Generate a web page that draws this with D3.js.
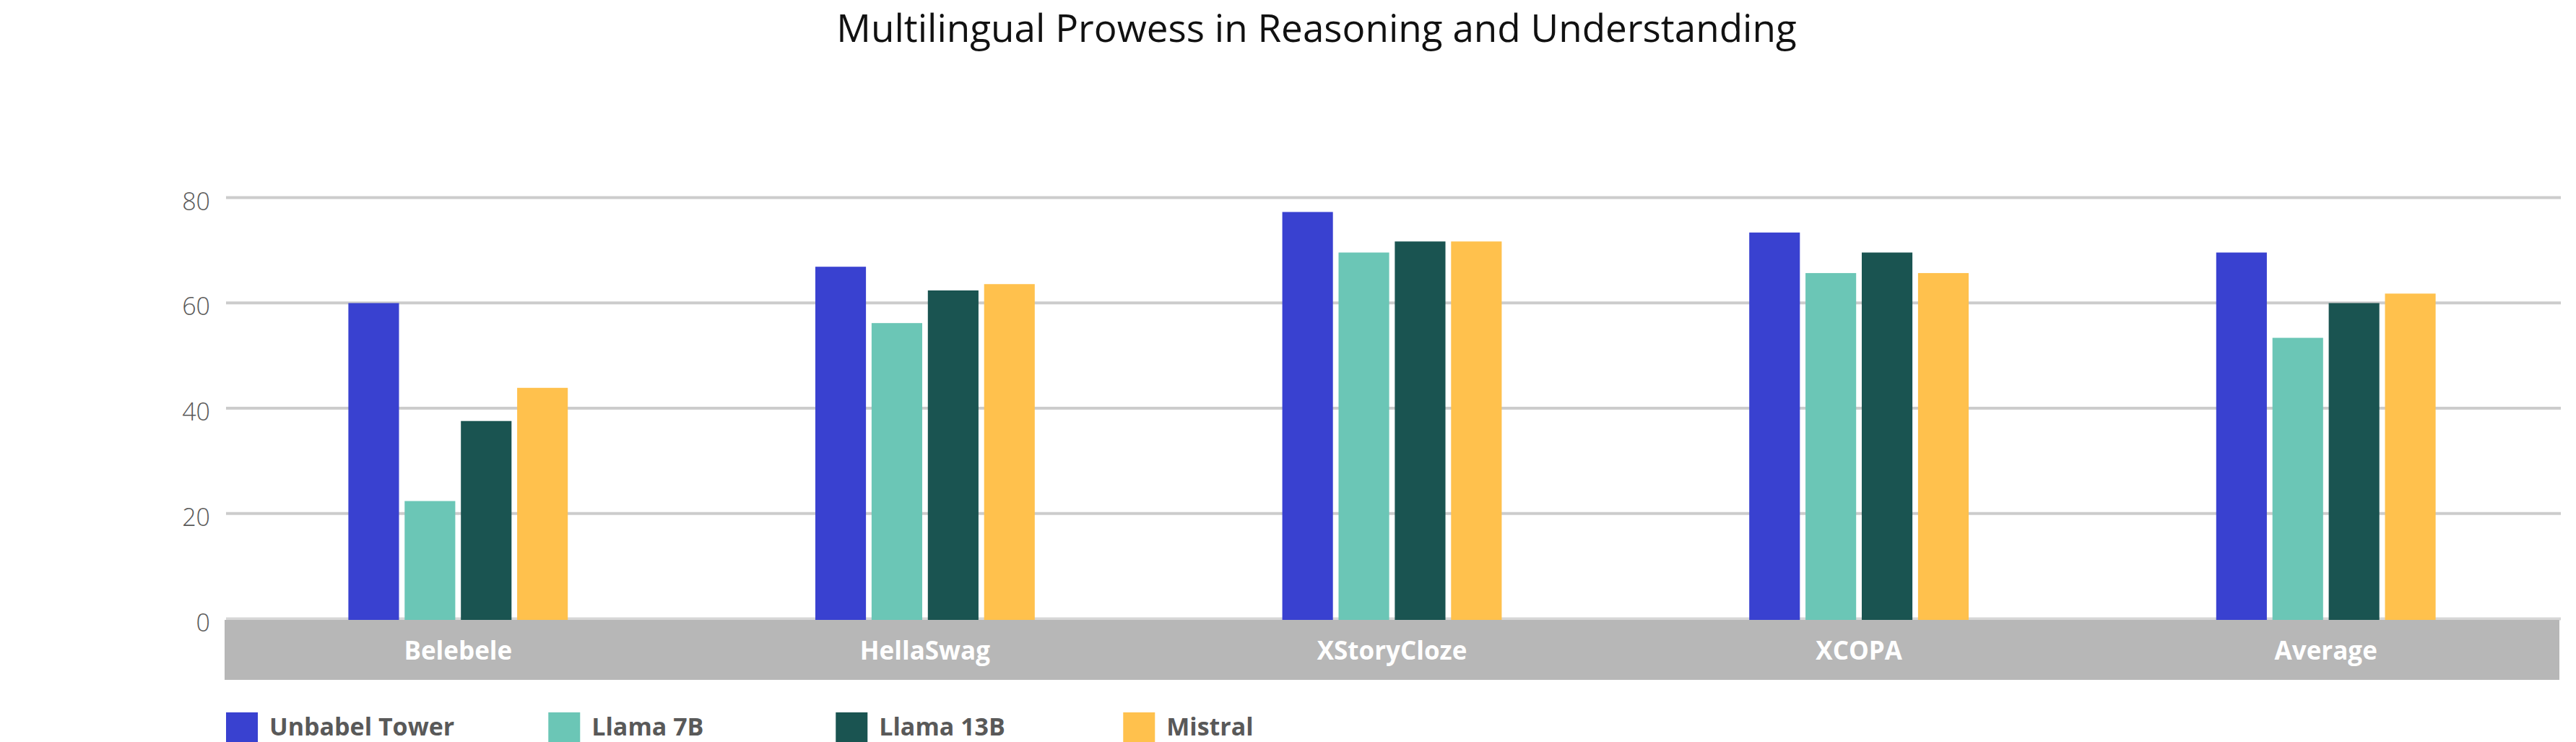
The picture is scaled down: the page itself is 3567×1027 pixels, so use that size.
<!DOCTYPE html>
<html>
<head>
<meta charset="utf-8">
<script src="https://cdn.jsdelivr.net/npm/d3@7"></script>
<style>
  body { margin: 0; background: #fff; }
  svg { display: block; }
</style>
</head>
<body>
<div id="chart"></div>
<script>

// benchmark categories along the x axis
let categories = ["Belebele", "HellaSwag", "XStoryCloze", "XCOPA", "Average"];

// models (series)
let series = ["Unbabel Tower", "Llama 7B", "Llama 13B", "Mistral"];

// scores per model, same order as categories
let towerValues   = [59.9, 66.8, 77.2, 73.3, 69.5];
let llama7bValues = [22.3, 56.1, 69.5, 65.6, 53.3];
let llama13bValues = [37.5, 62.3, 71.6, 69.5, 59.9];
let mistralValues = [43.8, 63.5, 71.6, 65.6, 61.7];

let yTicks = [0, 20, 40, 60, 80];

let chartTitle = "Multilingual Prowess in Reasoning and Understanding";

function drawChart(elt, w, h) {

    let colors = ["#3941d0", "#6bc6b6", "#1a5451", "#ffc14d"];

    let margin = {top: 273, right: 23, bottom: 169, left: 311},
        width = w - margin.left - margin.right,
        height = h - margin.top - margin.bottom;

    let valuesBySeries = [towerValues, llama7bValues, llama13bValues, mistralValues];

    let svg = d3.select(elt).append("svg")
        .attr("width", w)
        .attr("height", h);

    // title
    svg.append("text")
        .attr("x", 1823)
        .attr("y", 58)
        .attr("text-anchor", "middle")
        .style("font-family", "'Open Sans', sans-serif")
        .style("font-size", "53px")
        .style("fill", "#111")
        .text(chartTitle);

    let g = svg.append("g")
        .attr("transform", "translate(" + margin.left + "," + margin.top + ")");

    let x0 = d3.scaleBand()
        .domain(categories)
        .range([0, width]);

    let x1 = d3.scaleBand()
        .domain(series)
        .range([0, x0.bandwidth()])
        .paddingInner(0.1)
        .paddingOuter(2.2);

    let y = d3.scaleLinear()
        .domain([0, 80])
        .range([height - 2, 0]);

    // gridlines + y labels
    let yAxis = g.append("g")
        .attr("transform", "translate(2,0)")
        .call(d3.axisLeft(y)
            .tickValues(yTicks)
            .tickSize(-width)
            .tickPadding(22));

    yAxis.select(".domain").remove();
    yAxis.selectAll(".tick line")
        .attr("stroke", function(d) { return d === 0 ? "#d6d6d6" : "#cccccc"; })
        .attr("stroke-width", 4);
    yAxis.selectAll(".tick text")
        .attr("dy", "0.5em")
        .style("font-family", "'Open Sans', sans-serif")
        .style("font-weight", 300)
        .style("font-size", "34px")
        .style("fill", "#595959");

    // gray category band under the bars
    g.append("rect")
        .attr("x", 0)
        .attr("y", y(0) + 2)
        .attr("width", width)
        .attr("height", 83)
        .attr("fill", "#b7b7b7");

    // bars
    let groups = g.selectAll(".group")
        .data(categories)
        .enter().append("g")
        .attr("class", "group")
        .attr("transform", function(d) { return "translate(" + x0(d) + ",0)"; });

    groups.selectAll("rect")
        .data(function(d, i) {
            return series.map(function(s, j) {
                return {key: s, value: valuesBySeries[j][i], fill: colors[j]};
            });
        })
        .enter().append("rect")
        .attr("x", function(d) { return x1(d.key); })
        .attr("y", function(d) { return y(d.value); })
        .attr("width", x1.bandwidth())
        .attr("height", function(d) { return y(0) + 2 - y(d.value); })
        .attr("fill", function(d) { return d.fill; });

    // category labels inside the band
    let xAxis = g.append("g")
        .attr("transform", "translate(0," + (y(0) + 57) + ")")
        .call(d3.axisBottom(x0).tickSize(0).tickPadding(0));

    xAxis.select(".domain").remove();
    xAxis.selectAll(".tick text")
        .attr("dy", "0")
        .style("font-family", "'Open Sans', sans-serif")
        .style("font-weight", 700)
        .style("font-size", "35px")
        .style("fill", "#ffffff");

    // legend
    let legend = svg.append("g")
        .attr("transform", "translate(" + (margin.left + 2) + ",986)");

    let offset = 0;
    series.forEach(function(s, i) {
        let item = legend.append("g")
            .attr("transform", "translate(" + offset + ",0)");
        item.append("rect")
            .attr("width", 44)
            .attr("height", 41)
            .attr("fill", colors[i]);
        let label = item.append("text")
            .attr("x", 60)
            .attr("y", 32)
            .style("font-family", "'Open Sans', sans-serif")
            .style("font-weight", 700)
            .style("font-size", "34px")
            .style("fill", "#595959")
            .text(s);
        let tw = label.node().getComputedTextLength();
        offset += Math.max(60 + tw + 130, 398);
    });
}

drawChart("#chart", 3567, 1027);
</script>
</body>
</html>
